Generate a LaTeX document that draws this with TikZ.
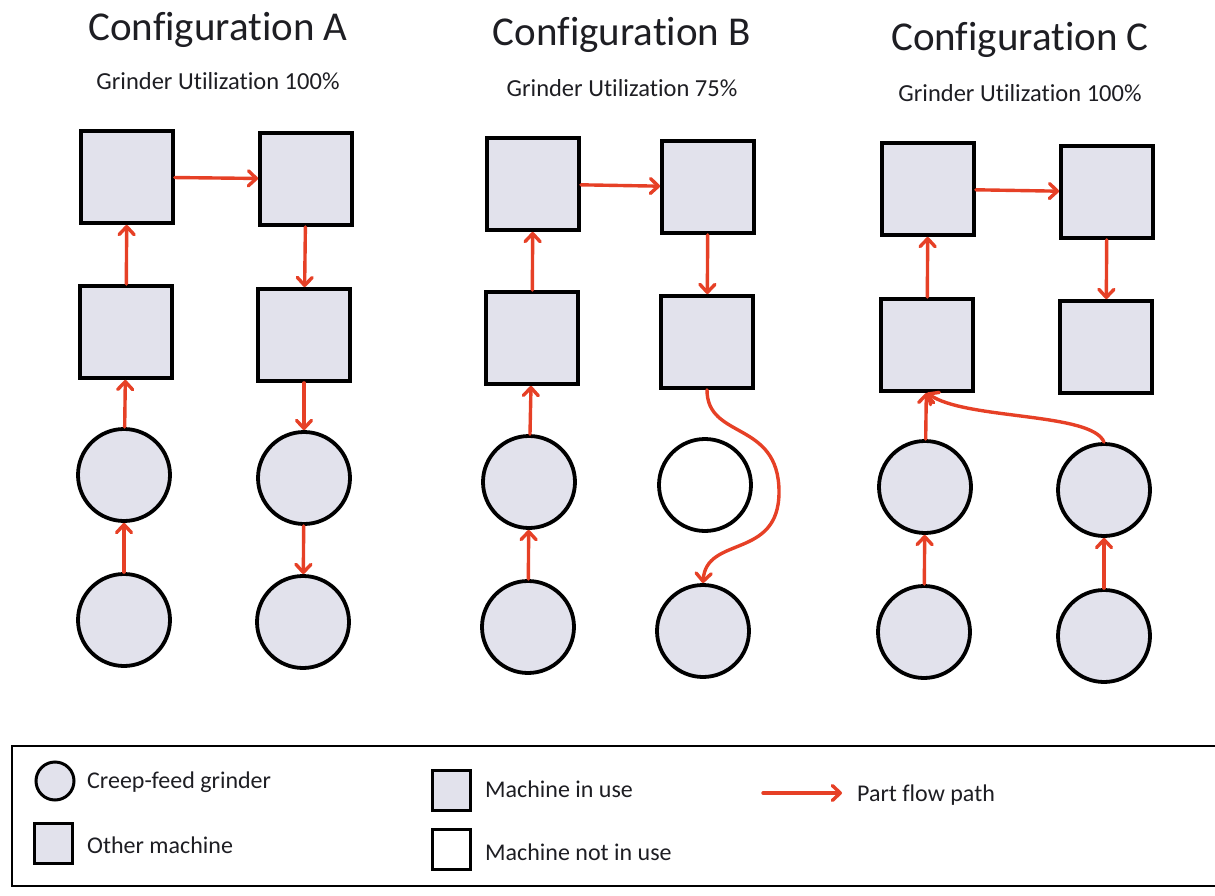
\documentclass[tikz,border=0pt]{standalone}
\usepackage{fontspec}
\setmainfont{Carlito}[Ligatures=NoCommon]
\usetikzlibrary{arrows.meta}
\definecolor{machfill}{RGB}{226,226,236}
\definecolor{flowred}{RGB}{230,64,38}
\definecolor{inktext}{RGB}{30,30,35}
\tikzset{
  sq/.style={draw=black, line width=3.8pt, fill=machfill, minimum size=92pt, inner sep=0pt},
  grinder/.style={circle, draw=black, line width=3.8pt, fill=machfill, minimum size=92pt, inner sep=0pt},
  grinderoff/.style={circle, draw=black, line width=3.8pt, fill=white, minimum size=92pt, inner sep=0pt},
  flow/.style={draw=flowred, line width=3.4pt, line cap=round, -{Straight Barb[length=8pt,width=15pt,line width=3.4pt,round]}},
  ttl/.style={font=\fontsize{41}{48}\selectfont, text=inktext},
  sub/.style={font=\fontsize{24.5}{28}\selectfont, text=inktext},
  leg/.style={font=\fontsize{24}{28}\selectfont, anchor=west, inner sep=0pt, text=inktext},
  lsq/.style={draw=black, line width=3pt, fill=machfill, minimum width=38pt, minimum height=40pt, inner sep=0pt},
  lcirc/.style={circle, draw=black, line width=3pt, fill=machfill, minimum size=38pt, inner sep=0pt}
}
\begin{document}
\begin{tikzpicture}[x=1pt, y=-1pt]
\useasboundingbox (0,0) rectangle (1215,896);
% Configuration A
\node[ttl] (tA) at (218,30) {Configuration A};
\node[sub] (sA) at (218,81) {Grinder Utilization 100\%};
\node[sq] (a1) at (127,177) {};
\node[sq] (a2) at (306,179) {};
\node[sq] (a3) at (126,332) {};
\node[sq] (a4) at (304,335) {};
\node[grinder] (a5) at (124,475) {};
\node[grinder] (a6) at (304,478) {};
\node[grinder] (a7) at (124,620) {};
\node[grinder] (a8) at (303,622) {};
\draw[flow] (a7) -- (a5);
\draw[flow] (a5) -- (a3);
\draw[flow] (a3) -- (a1);
\draw[flow] (a1) -- (a2);
\draw[flow] (a2) -- (a4);
\draw[flow] (a4) -- (a6);
\draw[flow] (a6) -- (a8);
% Configuration B
\node[ttl] (tB) at (622,35) {Configuration B};
\node[sub] (sB) at (622,88) {Grinder Utilization 75\%};
\node[sq] (b1) at (533,184) {};
\node[sq] (b2) at (708,187) {};
\node[sq] (b3) at (532,338) {};
\node[sq] (b4) at (707,342) {};
\node[grinder] (b5) at (529,482) {};
\node[grinderoff] (b6) at (705,485) {};
\node[grinder] (b7) at (528,627) {};
\node[grinder] (b8) at (703,631) {};
\draw[flow] (b7) -- (b5);
\draw[flow] (b5) -- (b3);
\draw[flow] (b3) -- (b1);
\draw[flow] (b1) -- (b2);
\draw[flow] (b2) -- (b4);
\draw[flow] (b4.south) .. controls (707,440) and (779,420) .. (779,492) .. controls (779,560) and (706,535) .. (b8.north);
% Configuration C
\node[ttl] (tC) at (1020,40) {Configuration C};
\node[sub] (sC) at (1020,93) {Grinder Utilization 100\%};
\node[sq] (c1) at (928,189) {};
\node[sq] (c2) at (1107,192) {};
\node[sq] (c3) at (927,345) {};
\node[sq] (c4) at (1106,347) {};
\node[grinder] (c5) at (925,487) {};
\node[grinder] (c6) at (1104,490) {};
\node[grinder] (c7) at (924,632) {};
\node[grinder] (c8) at (1104,636) {};
\draw[flow] (c7) -- (c5);
\draw[flow] (c5) -- (c3);
\draw[flow] (c3) -- (c1);
\draw[flow] (c1) -- (c2);
\draw[flow] (c2) -- (c4);
\draw[flow] (c8) -- (c6);
\draw[flow] (c6.north) .. controls (1092,412) and (965,420) .. (c3.south);
% Legend
\draw[line width=2.4pt] (12,746) rectangle (1240,886);
\node[lcirc] (l1) at (55,781) {};
\node[leg] (l1t) at (87,782) {Creep-feed grinder};
\node[lsq] (l2) at (53,843) {};
\node[leg] (l2t) at (87,845) {Other machine};
\node[lsq] (l3) at (451,790) {};
\node[leg] (l3t) at (485,789) {Machine in use};
\node[lsq, fill=white] (l4) at (451,849) {};
\node[leg] (l4t) at (485,852) {Machine not in use};
\coordinate (la) at (763,793);
\coordinate (lb) at (842,793);
\draw[flow] (la) -- (lb);
\node[leg] (l5t) at (857,795) {Part flow path};
\end{tikzpicture}
\end{document}
